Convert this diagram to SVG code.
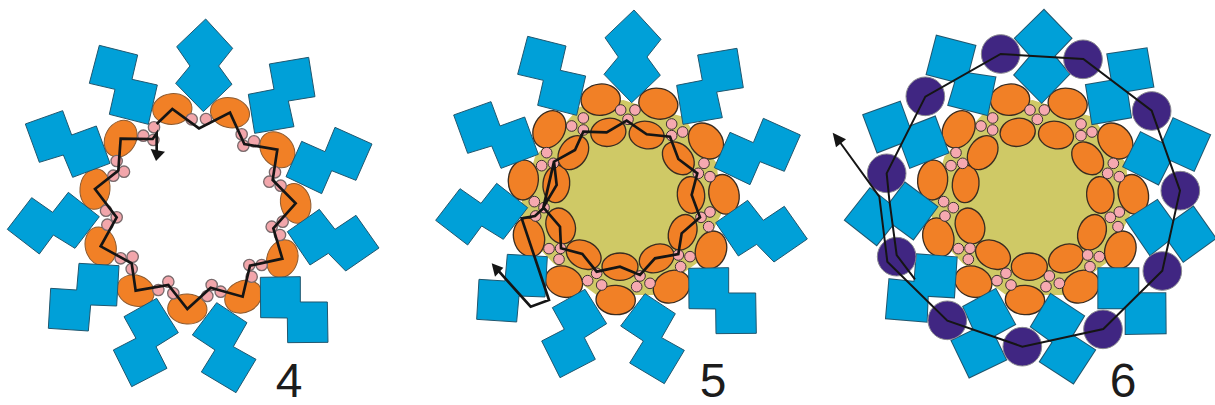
<svg xmlns="http://www.w3.org/2000/svg" width="1215" height="405" viewBox="0 0 1215 405">
<style>
.b{fill:#00a0d8;stroke:#20566e;stroke-width:3;stroke-linejoin:miter}
.under{fill:none;stroke:#20566e;stroke-width:6}
.over{fill:#00a0d8;stroke:none}
.o{fill:#f18026;stroke:#8c5a30;stroke-width:3}
.r .o{stroke:#3a2c20;stroke-width:4}
.p4{fill:#f2a6ab;stroke:#7a6a6c;stroke-width:4}
.p{fill:#f6a9b0;stroke:#3c3230;stroke-width:3}
.d{fill:#402682;stroke:#8a8a90;stroke-width:3}
.l{fill:none;stroke:#151515;stroke-width:8;stroke-linejoin:miter}
.t{stroke-width:6}
.h{fill:#151515}
.y{fill:#cfc966}
text{font-family:"Liberation Sans",Arial,sans-serif;font-size:48px;fill:#1c1c1c;text-anchor:middle}
</style>
<defs>
<g id="zs">
<polygon class="b" points="617,57 698,145 656,198 696,253 610,335 527,250 570,198 530,140"/>
<polygon class="b" points="808,192 926,172 945,290 865,303 882,380 764,400 745,283 822,268"/>
<polygon class="b" points="1005,382 1116,432 1068,541 995,512 965,581 858,530 905,424 975,455"/>
<polygon class="b" points="958,628 1005,688 1068,646 1137,744 1037,813 985,760 930,795 862,695"/>
<polygon class="b" points="781,832 901,830 901,906 982,906 984,1027 863,1028 862,954 782,953"/>
<polygon class="b" points="650,908 741,968 700,1040 768,1078 708,1178 604,1116 645,1050 577,1005"/>
<polygon class="b" points="470,895 535,998 468,1040 501,1105 395,1160 340,1050 408,1015 372,950"/>
<polygon class="b" points="237,790 357,797 350,918 272,915 265,993 145,985 152,865 230,870"/>
<polygon class="b" points="205,577 298,650 225,745 160,705 118,762 22,688 95,593 158,637"/>
<polygon class="b" points="188,332 215,405 289,378 330,490 218,532 190,465 118,487 76,372"/>
<polygon class="b" points="298,136 413,165 396,238 472,255 445,373 328,343 345,268 268,250"/>
</g>
<g id="squares">
<polygon points="672,30 754,115 703,168 748,222 665,308 583,225 632,168 585,115"/>
<polygon points="862,163 980,145 1000,260 882,280"/>
<polygon points="798,255 915,235 933,352 817,372"/>
<polygon points="1060,355 1170,405 1122,512 1012,462"/>
<polygon points="962,397 1067,450 1015,553 910,500"/>
<polygon points="1022,690 1120,620 1187,715 1090,785"/>
<polygon points="918,660 1012,600 1080,695 990,765"/>
<polygon points="917,880 1036,880 1037,1000 917,1002"/>
<polygon points="835,805 955,805 955,925 835,925"/>
<polygon points="660,1085 725,985 825,1050 760,1150"/>
<polygon points="692,882 792,948 730,1050 633,980"/>
<polygon points="395,1022 505,969 558,1079 448,1132"/>
<polygon points="430,920 527,867 585,973 480,1030"/>
<polygon points="208,838 325,850 320,965 198,955"/>
<polygon points="290,763 410,772 402,892 280,885"/>
<polygon points="75,660 150,565 245,640 170,735"/>
<polygon points="255,548 352,620 280,718 182,646"/>
<polygon points="130,345 240,305 280,415 172,457"/>
<polygon points="345,350 385,458 270,503 230,395"/>
<polygon points="350,107 466,137 436,253 320,223"/>
<polygon points="415,215 526,232 502,345 385,315"/>
</g>
<g id="ring" class="r">
<polygon class="y" points="480,320 610,300 640,310 790,350 810,380 890,490 905,640 830,790 700,885 530,885 400,790 325,710 300,625 345,470"/>
<ellipse class="o" cx="542" cy="299" rx="59" ry="47" transform="rotate(-5 542 299)"/>
<ellipse class="o" cx="715" cy="311" rx="59" ry="46" transform="rotate(12 715 311)"/>
<ellipse class="o" cx="858" cy="423" rx="59" ry="47" transform="rotate(48 858 423)"/>
<ellipse class="o" cx="912" cy="583" rx="45" ry="60" transform="rotate(-12 912 583)"/>
<ellipse class="o" cx="873" cy="750" rx="46" ry="58" transform="rotate(18 873 750)"/>
<ellipse class="o" cx="755" cy="860" rx="57" ry="47" transform="rotate(-28 755 860)"/>
<ellipse class="o" cx="587" cy="900" rx="59" ry="44" transform="rotate(3 587 900)"/>
<ellipse class="o" cx="432" cy="845" rx="57" ry="46" transform="rotate(20 432 845)"/>
<ellipse class="o" cx="327" cy="712" rx="46" ry="59" transform="rotate(-15 327 712)"/>
<ellipse class="o" cx="310" cy="540" rx="45" ry="60" transform="rotate(5 310 540)"/>
<ellipse class="o" cx="388" cy="388" rx="46" ry="59" transform="rotate(30 388 388)"/>
<ellipse class="o" cx="565" cy="397" rx="53" ry="42" transform="rotate(-10 565 397)"/>
<ellipse class="o" cx="680" cy="405" rx="53" ry="41" transform="rotate(12 680 405)"/>
<ellipse class="o" cx="775" cy="475" rx="55" ry="41" transform="rotate(48 775 475)"/>
<ellipse class="o" cx="813" cy="585" rx="41" ry="55" transform="rotate(-5 813 585)"/>
<ellipse class="o" cx="788" cy="697" rx="41" ry="55" transform="rotate(22 788 697)"/>
<ellipse class="o" cx="710" cy="775" rx="54" ry="41" transform="rotate(-24 710 775)"/>
<ellipse class="o" cx="600" cy="800" rx="54" ry="41"/>
<ellipse class="o" cx="491" cy="764" rx="55" ry="41" transform="rotate(28 491 764)"/>
<ellipse class="o" cx="422" cy="678" rx="43" ry="55" transform="rotate(-20 422 678)"/>
<ellipse class="o" cx="409" cy="552" rx="40" ry="56" transform="rotate(5 409 552)"/>
<ellipse class="o" cx="460" cy="458" rx="41" ry="55" transform="rotate(35 460 458)"/>
<circle class="p" cx="602" cy="330" r="16"/><circle class="p" cx="645" cy="330" r="16"/><circle class="p" cx="624" cy="358" r="16"/>
<circle class="p" cx="755" cy="372" r="16"/><circle class="p" cx="788" cy="396" r="16"/><circle class="p" cx="755" cy="407" r="16"/>
<circle class="p" cx="852" cy="490" r="16"/><circle class="p" cx="870" cy="530" r="16"/><circle class="p" cx="835" cy="520" r="16"/>
<circle class="p" cx="870" cy="636" r="16"/><circle class="p" cx="866" cy="680" r="16"/><circle class="p" cx="843" cy="652" r="16"/>
<circle class="p" cx="810" cy="770" r="16"/><circle class="p" cx="782" cy="800" r="16"/><circle class="p" cx="775" cy="765" r="16"/>
<circle class="p" cx="690" cy="850" r="16"/><circle class="p" cx="650" cy="860" r="16"/><circle class="p" cx="660" cy="828" r="16"/>
<circle class="p" cx="545" cy="855" r="16"/><circle class="p" cx="503" cy="842" r="16"/><circle class="p" cx="530" cy="820" r="16"/>
<circle class="p" cx="417" cy="778" r="16"/><circle class="p" cx="387" cy="746" r="16"/><circle class="p" cx="422" cy="745" r="16"/>
<circle class="p" cx="343" cy="605" r="16"/><circle class="p" cx="347" cy="648" r="16"/><circle class="p" cx="372" cy="623" r="16"/>
<circle class="p" cx="380" cy="458" r="16"/><circle class="p" cx="365" cy="497" r="16"/><circle class="p" cx="400" cy="490" r="16"/>
<circle class="p" cx="455" cy="378" r="16"/><circle class="p" cx="490" cy="354" r="16"/><circle class="p" cx="490" cy="390" r="16"/>
</g>
</defs>

<g id="panel-4" transform="scale(.33333)">
<ellipse class="o" cx="517" cy="327" rx="59" ry="46" transform="rotate(-5 517 327)"/>
<ellipse class="o" cx="690" cy="338" rx="59" ry="45" transform="rotate(12 690 338)"/>
<ellipse class="o" cx="832" cy="449" rx="59" ry="47" transform="rotate(48 832 449)"/>
<ellipse class="o" cx="887" cy="610" rx="45" ry="60" transform="rotate(-12 887 610)"/>
<ellipse class="o" cx="847" cy="776" rx="46" ry="58" transform="rotate(18 847 776)"/>
<ellipse class="o" cx="730" cy="890" rx="58" ry="47" transform="rotate(-28 730 890)"/>
<ellipse class="o" cx="562" cy="927" rx="59" ry="45" transform="rotate(3 562 927)"/>
<ellipse class="o" cx="407" cy="872" rx="57" ry="46" transform="rotate(20 407 872)"/>
<ellipse class="o" cx="302" cy="739" rx="46" ry="59" transform="rotate(-15 302 739)"/>
<ellipse class="o" cx="285" cy="567" rx="45" ry="61" transform="rotate(5 285 567)"/>
<ellipse class="o" cx="362" cy="416" rx="46" ry="58" transform="rotate(30 362 416)"/>
<circle class="p4" cx="575" cy="358" r="17"/><circle class="p4" cx="618" cy="357" r="17"/>
<circle class="p4" cx="725" cy="403" r="17"/><circle class="p4" cx="762" cy="424" r="17"/><circle class="p4" cx="730" cy="437" r="17"/>
<circle class="p4" cx="825" cy="517" r="17"/><circle class="p4" cx="808" cy="545" r="17"/><circle class="p4" cx="842" cy="557" r="17"/>
<circle class="p4" cx="848" cy="665" r="17"/><circle class="p4" cx="815" cy="680" r="17"/><circle class="p4" cx="840" cy="705" r="17"/>
<circle class="p4" cx="748" cy="795" r="17"/><circle class="p4" cx="785" cy="795" r="17"/><circle class="p4" cx="755" cy="830" r="17"/>
<circle class="p4" cx="635" cy="855" r="17"/><circle class="p4" cx="662" cy="875" r="17"/><circle class="p4" cx="622" cy="888" r="17"/>
<circle class="p4" cx="505" cy="845" r="17"/><circle class="p4" cx="475" cy="870" r="17"/><circle class="p4" cx="520" cy="880" r="17"/>
<circle class="p4" cx="398" cy="770" r="17"/><circle class="p4" cx="362" cy="775" r="17"/><circle class="p4" cx="395" cy="807" r="17"/>
<circle class="p4" cx="350" cy="652" r="17"/><circle class="p4" cx="318" cy="632" r="17"/><circle class="p4" cx="322" cy="674" r="17"/>
<circle class="p4" cx="350" cy="483" r="17"/><circle class="p4" cx="372" cy="515" r="17"/><circle class="p4" cx="340" cy="527" r="17"/>
<circle class="p4" cx="462" cy="382" r="17"/><circle class="p4" cx="430" cy="407" r="17"/><circle class="p4" cx="460" cy="420" r="17"/>
<use href="#zs"/>
</g>

<g id="panel-5" transform="translate(420 0) scale(.33333)">
<use href="#ring"/>
<use href="#zs" transform="translate(25 -27)"/>
</g>

<g id="panel-6" transform="translate(820 0) scale(.33333)">
<use href="#ring" transform="translate(28 0)"/>
<use href="#squares" class="under"/>
<use href="#squares" class="over"/>
<circle class="d" cx="542" cy="162" r="58"/><circle class="d" cx="789" cy="178" r="58"/>
<circle class="d" cx="995" cy="333" r="58"/><circle class="d" cx="1081" cy="572" r="58"/>
<circle class="d" cx="1027" cy="813" r="58"/><circle class="d" cx="849" cy="988" r="58"/>
<circle class="d" cx="607" cy="1040" r="58"/><circle class="d" cx="382" cy="961" r="58"/>
<circle class="d" cx="230" cy="770" r="58"/><circle class="d" cx="200" cy="520" r="58"/>
<circle class="d" cx="316" cy="289" r="58"/>
</g>

<g id="connectors">
<g transform="scale(.33333)">
<polyline class="l" points="470,372 517,327 597,385 690,338 733,432 832,449 818,540 887,610 820,685 847,776 750,797 728,890 632,863 562,927 505,855 407,872 395,790 302,739 350,652 285,567 355,512 362,416 458,417 470,400 470,455"/>
<polygon class="h" points="452,447 495,455 468,483"/>
</g>
<g transform="translate(420 0) scale(.33333)">
<polyline class="l" points="370,622 410,555 402,485 465,450 490,395 560,397 620,362 680,403 750,410 775,477 832,520 815,585 840,652 785,700 775,762 705,775 660,825 600,800 530,815 487,762 423,745 420,680 370,622 402,485 370,625 345,648 305,655 387,900 332,920 235,812"/>
<polygon class="h" points="215,790 250,803 225,830"/>
</g>
<g transform="translate(820 0) scale(.33333)">
<polyline class="l t" points="285,838 230,765 208,600 200,520 316,290 542,162 790,177 995,332 1080,572 1027,812 850,987 607,1040 382,962 202,785 178,590 55,420"/>
<polygon class="h" points="38,398 78,418 48,442"/>
</g>
</g>

<g id="labels">
<text x="289" y="397">4</text>
<text x="713" y="397">5</text>
<text x="1123" y="397">6</text>
</g>
</svg>
